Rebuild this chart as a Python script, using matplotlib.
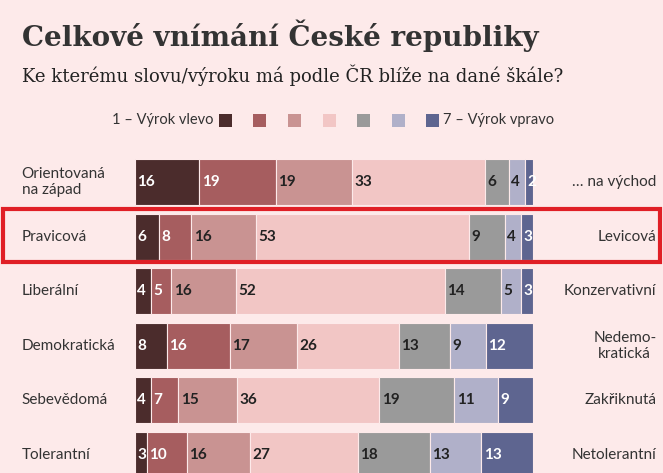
import matplotlib
matplotlib.use("Agg")
import matplotlib.pyplot as plt
from matplotlib.patches import Rectangle

left_labels = ["Orientovaná\nna západ", "Pravicová", "Liberální", "Demokratická", "Sebevědomá", "Tolerantní"]
right_labels = ["… na východ", "Levicová", "Konzervativní", "Nedemo-\nkratická", "Zakřiknutá", "Netolerantní"]
values = [
    [16, 19, 19, 33, 6, 4, 2],
    [6, 8, 16, 53, 9, 4, 3],
    [4, 5, 16, 52, 14, 5, 3],
    [8, 16, 17, 26, 13, 9, 12],
    [4, 7, 15, 36, 19, 11, 9],
    [3, 10, 16, 27, 18, 13, 13],
]
colors = ["#4b2c2c", "#a65d5f", "#c99392", "#f2c6c5", "#9a9a9a", "#b0b0c9", "#5e6590"]
text_colors = ["white", "white", "#222", "#222", "#222", "#222", "white"]
bg = "#fdeaea"
font = "Lato"

W, H = 663, 473
fig = plt.figure(figsize=(W / 100, H / 100), dpi=100, facecolor=bg)

def px(x, y):
    return x / W, 1 - y / H

fig.text(*px(22, 36), "Celkové vnímání České republiky", fontsize=20, fontweight="bold",
         family="DejaVu Serif", color="#333", va="center")
fig.text(*px(22, 75), "Ke kterému slovu/výroku má podle ČR blíže na dané škále?", fontsize=13,
         family="DejaVu Serif", color="#222", va="center")

# legend
fig.text(*px(213, 120), "1 – Výrok vlevo", fontsize=10.5, family=font, ha="right", va="center", color="#333")
for i, c in enumerate(colors):
    x0 = 219 + i * 34.5
    fig.patches.append(Rectangle(px(x0, 127), 13 / W, 13 / H, transform=fig.transFigure,
                                 facecolor=c, edgecolor="none"))
fig.text(*px(443, 120), "7 – Výrok vpravo", fontsize=10.5, family=font, ha="left", va="center", color="#333")

ax = fig.add_axes([135 / W, 0, 398 / W, 318 / H])
ax.set_facecolor(bg)
for r, row in enumerate(values):
    total = sum(row)
    left = 0
    for k, v in enumerate(row):
        w = v / total * 100
        ax.barh(r, w, left=left, height=0.84, color=colors[k], edgecolor=bg, linewidth=0.8)
        ax.text(left + 0.6, r, str(v), ha="left", va="center", fontsize=11, fontweight="bold",
                family=font, color=text_colors[k])
        left += w
    ax.text(-0.285, r, left_labels[r], transform=ax.get_yaxis_transform(), ha="left", va="center",
            fontsize=11, family=font, color="#333")
    ax.text(1.31, r, right_labels[r], transform=ax.get_yaxis_transform(), ha="right", va="center",
            fontsize=11, family=font, color="#333", multialignment="center")
ax.set_xlim(0, 100)
ax.set_ylim(5.33, -0.495)
ax.axis("off")

fig.patches.append(Rectangle(px(3, 262), 657 / W, 53 / H, transform=fig.transFigure,
                             facecolor="none", edgecolor="#e01f26", linewidth=3))

fig.savefig("out.png", dpi=100, facecolor=bg)
